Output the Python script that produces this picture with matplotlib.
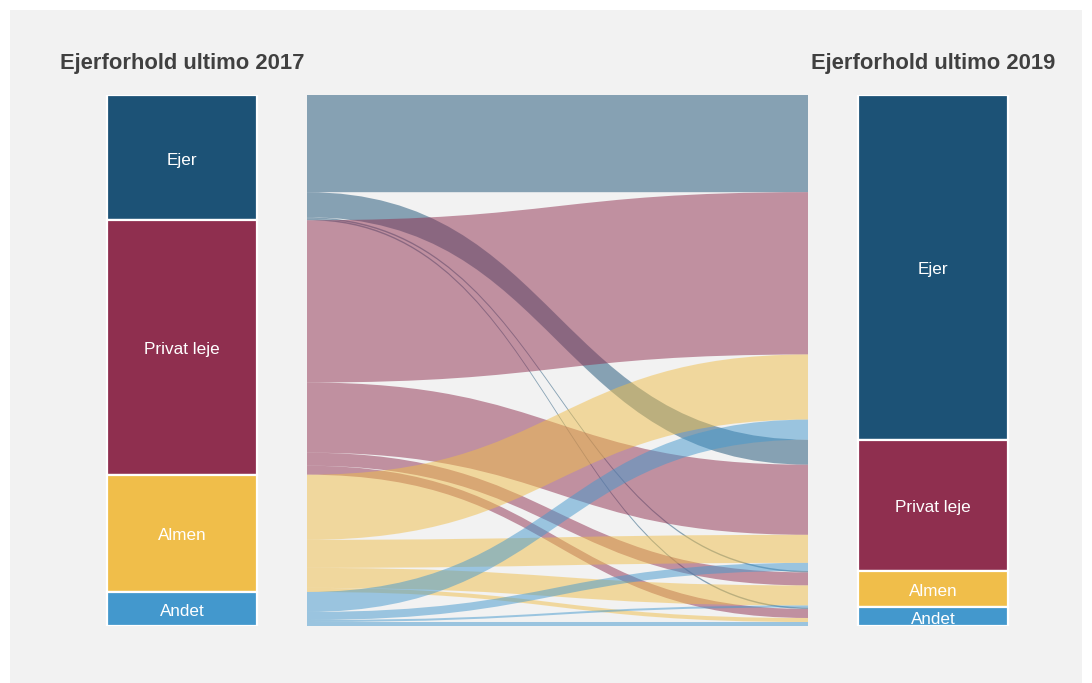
import matplotlib
matplotlib.use("Agg")
import matplotlib.pyplot as plt
from matplotlib.patches import Rectangle, PathPatch
from matplotlib.path import Path

plt.rcParams['font.family'] = ['Liberation Sans', 'DejaVu Sans']

# Kategorier og farver
kategorier = ['Ejer', 'Privat leje', 'Almen', 'Andet']
farver = ['#1c5276', '#8f2f4f', '#f0be4a', '#4398cd']

# Strømme fra ejerforhold 2017 (rækker) til ejerforhold 2019 (kolonner)
fra_ejer = [97, 25, 1.5, 1.5]
fra_privat = [162, 70, 13, 9]
fra_almen = [65, 28, 20, 4]
fra_andet = [20, 8, 2, 4]
stroemme = [fra_ejer, fra_privat, fra_almen, fra_andet]

titel_venstre = 'Ejerforhold ultimo 2017'
titel_hoejre = 'Ejerforhold ultimo 2019'

n = len(kategorier)
total_2017 = [sum(r) for r in stroemme]
total_2019 = [sum(stroemme[i][j] for i in range(n)) for j in range(n)]
total = sum(total_2017)

W, H = 1092, 683
fig = plt.figure(figsize=(W / 100, H / 100), dpi=100)
fig.patch.set_facecolor('white')

# grå baggrund
bg = fig.add_axes([10 / W, 0, 1072 / W, (H - 10) / H])
bg.set_facecolor('#f2f2f2')
bg.set_xticks([])
bg.set_yticks([])
for s in bg.spines.values():
    s.set_visible(False)

ax = fig.add_axes([0, (H - 626) / H, 1, 531 / H])
ax.set_xlim(0, W)
ax.set_ylim(total, 0)
ax.axis('off')

# kolonner (x i pixels)
venstre = (107, 257)
hoejre = (858, 1008)
flow_x0, flow_x1 = 307, 808


def tegn_noder(x, totaler):
    y = 0
    for k, v in enumerate(totaler):
        ax.add_patch(Rectangle((x[0], y), x[1] - x[0], v, facecolor=farver[k],
                               edgecolor='white', lw=1.6, zorder=3))
        ax.text((x[0] + x[1]) / 2, y + v / 2 + 2.5, kategorier[k], color='white',
                ha='center', va='center', fontsize=12.3, zorder=4)
        y += v


tegn_noder(venstre, total_2017)
tegn_noder(hoejre, total_2019)

# startpositioner for strømme
start_y = []
y = 0
for i in range(n):
    row = []
    for j in range(n):
        row.append(y)
        y += stroemme[i][j]
    start_y.append(row)

slut_y = [[0] * n for _ in range(n)]
y = 0
for j in range(n):
    for i in range(n):
        slut_y[i][j] = y
        y += stroemme[i][j]

xm = (flow_x0 + flow_x1) / 2
for i in range(n):
    for j in range(n):
        v = stroemme[i][j]
        a0, b0 = start_y[i][j], slut_y[i][j]
        verts = [(flow_x0, a0), (xm, a0), (xm, b0), (flow_x1, b0),
                 (flow_x1, b0 + v), (xm, b0 + v), (xm, a0 + v), (flow_x0, a0 + v),
                 (flow_x0, a0)]
        codes = [Path.MOVETO, Path.CURVE4, Path.CURVE4, Path.CURVE4,
                 Path.LINETO, Path.CURVE4, Path.CURVE4, Path.CURVE4,
                 Path.CLOSEPOLY]
        ax.add_patch(PathPatch(Path(verts, codes), facecolor=farver[i],
                               edgecolor='none', alpha=0.5, zorder=2))

fig.text(182 / W, 1 - 63.5 / H, titel_venstre, ha='center', va='center',
         fontsize=15.8, fontweight='bold', color='#404040')
fig.text(933 / W, 1 - 63.5 / H, titel_hoejre, ha='center', va='center',
         fontsize=15.8, fontweight='bold', color='#404040')

fig.savefig('out.png', dpi=100)
